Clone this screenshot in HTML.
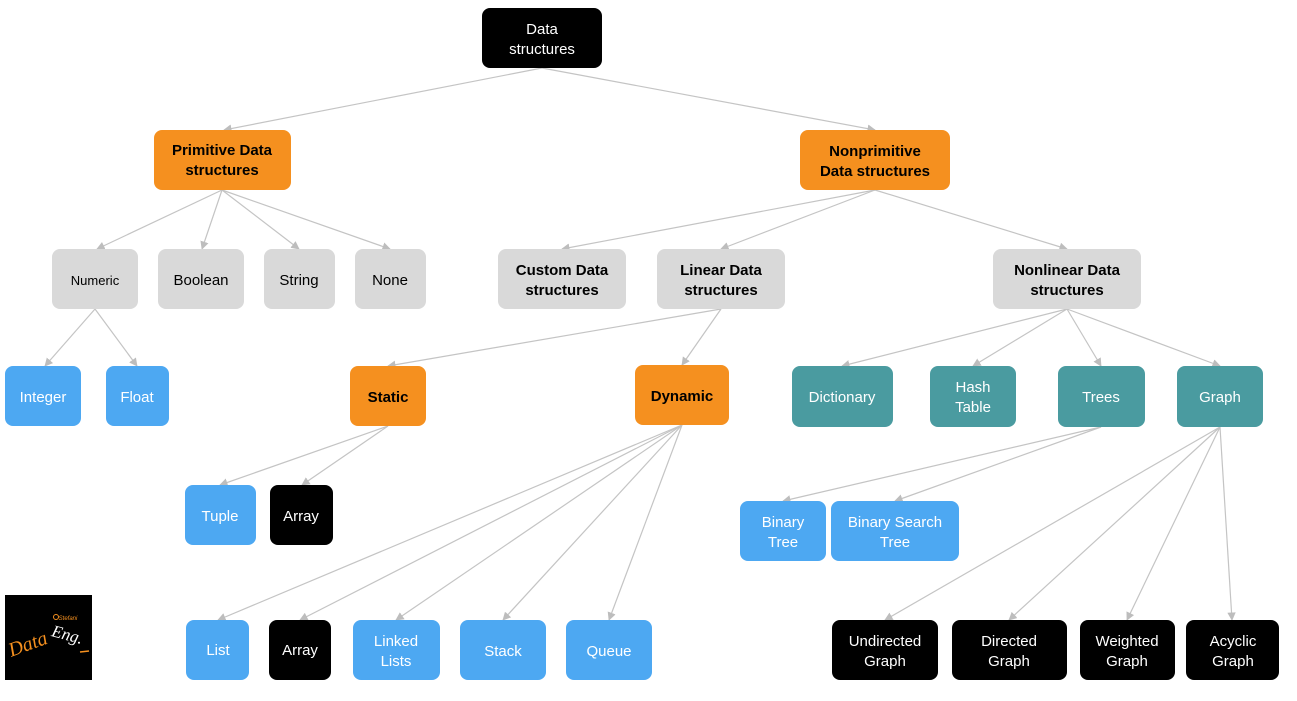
<!DOCTYPE html>
<html><head><meta charset="utf-8"><style>
body{margin:0;background:#fff;width:1297px;height:696px;overflow:hidden}
text{font-family:"Liberation Sans",sans-serif;font-size:15px;text-anchor:middle}
</style></head><body>
<svg width="1297" height="696" viewBox="0 0 1297 696" xmlns="http://www.w3.org/2000/svg">
<defs><marker id="a" viewBox="0 0 10 10" refX="9" refY="5" markerWidth="7" markerHeight="7" orient="auto"><path d="M0,0L10,5L0,10z" fill="#bdbdbd"/></marker></defs>
<g stroke="#c4c4c4" stroke-width="1.2" fill="none" marker-end="url(#a)">
<line x1="542" y1="68" x2="224" y2="130"/><line x1="542" y1="68" x2="875" y2="130"/>
<line x1="222" y1="190" x2="97" y2="249"/><line x1="222" y1="190" x2="202" y2="249"/><line x1="222" y1="190" x2="299" y2="249"/><line x1="222" y1="190" x2="390" y2="249"/>
<line x1="875" y1="190" x2="562" y2="249"/><line x1="875" y1="190" x2="721" y2="249"/><line x1="875" y1="190" x2="1067" y2="249"/>
<line x1="95" y1="309" x2="45" y2="366"/><line x1="95" y1="309" x2="137" y2="366"/>
<line x1="721" y1="309" x2="388" y2="366"/><line x1="721" y1="309" x2="682" y2="365"/>
<line x1="1067" y1="309" x2="842" y2="366"/><line x1="1067" y1="309" x2="973" y2="366"/><line x1="1067" y1="309" x2="1101" y2="366"/><line x1="1067" y1="309" x2="1220" y2="366"/>
<line x1="388" y1="426" x2="220" y2="485"/><line x1="388" y1="426" x2="302" y2="485"/>
<line x1="1101" y1="427" x2="783" y2="501"/><line x1="1101" y1="427" x2="895" y2="501"/>
<line x1="682" y1="425" x2="218" y2="620"/><line x1="682" y1="425" x2="300" y2="620"/><line x1="682" y1="425" x2="396" y2="620"/><line x1="682" y1="425" x2="503" y2="620"/><line x1="682" y1="425" x2="609" y2="620"/>
<line x1="1220" y1="427" x2="885" y2="620"/><line x1="1220" y1="427" x2="1009" y2="620"/><line x1="1220" y1="427" x2="1127" y2="620"/><line x1="1220" y1="427" x2="1232" y2="620"/>
</g>
<g>
<rect x="482" y="8" width="120" height="60" rx="8" fill="#000"/>
<rect x="154" y="130" width="137" height="60" rx="8" fill="#F5901F"/>
<rect x="800" y="130" width="150" height="60" rx="8" fill="#F5901F"/>
<rect x="52" y="249" width="86" height="60" rx="8" fill="#d9d9d9"/>
<rect x="158" y="249" width="86" height="60" rx="8" fill="#d9d9d9"/>
<rect x="264" y="249" width="71" height="60" rx="8" fill="#d9d9d9"/>
<rect x="355" y="249" width="71" height="60" rx="8" fill="#d9d9d9"/>
<rect x="498" y="249" width="128" height="60" rx="8" fill="#d9d9d9"/>
<rect x="657" y="249" width="128" height="60" rx="8" fill="#d9d9d9"/>
<rect x="993" y="249" width="148" height="60" rx="8" fill="#d9d9d9"/>
<rect x="5" y="366" width="76" height="60" rx="8" fill="#4DA8F2"/>
<rect x="106" y="366" width="63" height="60" rx="8" fill="#4DA8F2"/>
<rect x="350" y="366" width="76" height="60" rx="8" fill="#F5901F"/>
<rect x="635" y="365" width="94" height="60" rx="8" fill="#F5901F"/>
<rect x="792" y="366" width="101" height="61" rx="8" fill="#4A9BA0"/>
<rect x="930" y="366" width="86" height="61" rx="8" fill="#4A9BA0"/>
<rect x="1058" y="366" width="87" height="61" rx="8" fill="#4A9BA0"/>
<rect x="1177" y="366" width="86" height="61" rx="8" fill="#4A9BA0"/>
<rect x="185" y="485" width="71" height="60" rx="8" fill="#4DA8F2"/>
<rect x="270" y="485" width="63" height="60" rx="8" fill="#000"/>
<rect x="740" y="501" width="86" height="60" rx="8" fill="#4DA8F2"/>
<rect x="831" y="501" width="128" height="60" rx="8" fill="#4DA8F2"/>
<rect x="186" y="620" width="63" height="60" rx="8" fill="#4DA8F2"/>
<rect x="269" y="620" width="62" height="60" rx="8" fill="#000"/>
<rect x="353" y="620" width="87" height="60" rx="8" fill="#4DA8F2"/>
<rect x="460" y="620" width="86" height="60" rx="8" fill="#4DA8F2"/>
<rect x="566" y="620" width="86" height="60" rx="8" fill="#4DA8F2"/>
<rect x="832" y="620" width="106" height="60" rx="8" fill="#000"/>
<rect x="952" y="620" width="115" height="60" rx="8" fill="#000"/>
<rect x="1080" y="620" width="95" height="60" rx="8" fill="#000"/>
<rect x="1186" y="620" width="93" height="60" rx="8" fill="#000"/>
<rect x="5" y="595" width="87" height="85" fill="#000"/>
</g>
<g fill="#fff">
<text x="542" y="34">Data</text><text x="542" y="54">structures</text>
<text x="1233" y="646">Acyclic</text><text x="1233" y="666">Graph</text>
<text x="1127" y="646">Weighted</text><text x="1127" y="666">Graph</text>
<text x="1009" y="646">Directed</text><text x="1009" y="666">Graph</text>
<text x="885" y="646">Undirected</text><text x="885" y="666">Graph</text>
<text x="300" y="655">Array</text><text x="301" y="521">Array</text>
<text x="43" y="402">Integer</text><text x="137" y="402">Float</text>
<text x="220" y="521">Tuple</text>
<text x="783" y="527">Binary</text><text x="783" y="547">Tree</text>
<text x="895" y="527">Binary Search</text><text x="895" y="547">Tree</text>
<text x="218" y="655">List</text>
<text x="396" y="646">Linked</text><text x="396" y="666">Lists</text>
<text x="503" y="656">Stack</text><text x="609" y="656">Queue</text>
<text x="842" y="402">Dictionary</text>
<text x="973" y="392">Hash</text><text x="973" y="412">Table</text>
<text x="1101" y="402">Trees</text><text x="1220" y="402">Graph</text>
</g>
<g fill="#000">
<text x="222" y="155" font-weight="bold">Primitive Data</text><text x="222" y="175" font-weight="bold">structures</text>
<text x="875" y="156" font-weight="bold">Nonprimitive</text><text x="875" y="176" font-weight="bold">Data structures</text>
<text x="95" y="285" style="font-size:13px">Numeric</text>
<text x="201" y="285">Boolean</text><text x="299" y="285">String</text><text x="390" y="285">None</text>
<text x="562" y="275" font-weight="bold">Custom Data</text><text x="562" y="295" font-weight="bold">structures</text>
<text x="721" y="275" font-weight="bold">Linear Data</text><text x="721" y="295" font-weight="bold">structures</text>
<text x="1067" y="275" font-weight="bold">Nonlinear Data</text><text x="1067" y="295" font-weight="bold">structures</text>
<text x="388" y="402" font-weight="bold">Static</text><text x="682" y="401" font-weight="bold">Dynamic</text>
</g>
<g font-style="italic" font-family="Liberation Serif">
<circle cx="56" cy="617" r="2.5" fill="none" stroke="#F5901F"/>
<text x="68" y="620" style="font-size:6px;fill:#F5901F;font-family:'Liberation Sans'">Stefani</text>
<text x="30" y="650" transform="rotate(-20 30 650)" style="font-size:20px;fill:#F5901F;font-family:'Liberation Serif';font-style:italic">Data</text>
<text x="66" y="640" transform="rotate(15 66 640)" style="font-size:17px;fill:#fff;font-family:'Liberation Serif';font-style:italic">Eng.</text>
<line x1="80" y1="652" x2="89" y2="651" stroke="#F5901F" stroke-width="1.5"/>
</g>
</svg>
</body></html>
